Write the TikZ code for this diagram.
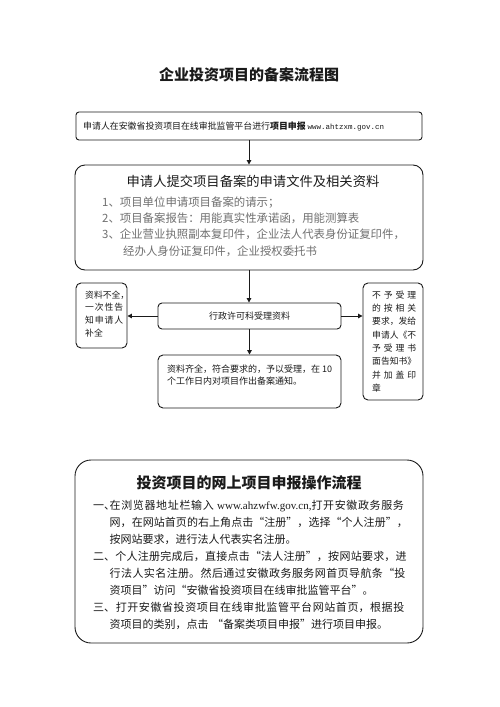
\documentclass[tikz,border=0pt]{standalone}
\usepackage{fontspec}
\setmainfont{Noto Sans CJK SC}
\newfontfamily\serifen{Liberation Serif}
\newfontfamily\monoen{Liberation Mono}
\usetikzlibrary{arrows.meta}
\definecolor{ink}{HTML}{1A1A1A}
\definecolor{graytext}{HTML}{707070}
\tikzset{
 box/.style={draw=ink, line width=0.9pt, rectangle, inner sep=0pt},
 conn/.style={draw=ink, line width=1pt, -{Triangle[length=4.5pt,width=4.5pt]}},
 txt/.style={inner sep=0pt, anchor=base west, text=ink},
 itemtxt/.style={txt, text=graytext},
}
\newcommand\fs[1]{\fontsize{#1}{#1}\selectfont}
\newcommand\spreadline[2]{\hbox to #1{#2}}
\begin{document}
\begin{tikzpicture}[x=1pt,y=-1pt]
\fill[white] (0,0) rectangle (500,707);
\useasboundingbox (0,0) rectangle (500,707);
% title
\node[txt, anchor=base] (title) at (249, 80.7) {\fs{15}\bfseries 企业投资项目的备案流程图};
% boxes
\node[box, rounded corners=3pt, minimum width=346pt, minimum height=28pt] (b1) at (249,126) {};
\node[box, rounded corners=10pt, minimum width=348pt, minimum height=105pt] (b2) at (249,217.5) {};
\node[box, rounded corners=4pt, minimum width=183pt, minimum height=26pt] (mid) at (249.5,316) {};
\node[box, rounded corners=5pt, minimum width=51pt, minimum height=65pt] (lbox) at (101.5,315.5) {};
\node[box, rounded corners=5pt, minimum width=60pt, minimum height=117pt] (rbox) at (393,341.5) {};
\node[box, rounded corners=5pt, minimum width=183pt, minimum height=53pt] (bot) at (249.5,381.5) {};
\node[box, rounded corners=16pt, minimum width=348pt, minimum height=183pt] (b3) at (249,551.5) {};
% connectors
\draw[conn] (b1.south) -- (b2.north);
\draw[conn] (b2.south) -- (b2.south |- mid.north);
\draw[conn] (mid.west) -- (mid.west -| lbox.east);
\draw[conn] (mid.east) -- (mid.east -| rbox.west);
\draw[conn] (mid.south) -- (bot.north);
% box1 text
\node[txt] (t1) at (83, 129.4) {\fs{8.9}申请人在安徽省投资项目在线审批监管平台进行\textbf{项目申报} {\monoen\fs{7.5}www.ahtzxm.gov.cn}};
% box2 text
\node[txt, anchor=base] (t2) at (253, 186.1) {\fs{13.3}申请人提交项目备案的申请文件及相关资料};
\node[itemtxt] (t2a) at (102, 206.3) {\fs{11.4}1、项目单位申请项目备案的请示；};
\node[itemtxt] (t2b) at (102, 222.6) {\fs{11.4}2、项目备案报告：用能真实性承诺函，用能测算表};
\node[itemtxt] (t2c) at (102, 238.9) {\fs{11.4}3、企业营业执照副本复印件，企业法人代表身份证复印件，};
\node[itemtxt] (t2d) at (123, 255.3) {\fs{11.4}经办人身份证复印件，企业授权委托书};
% middle
\node[txt, anchor=base] (tm) at (249.5, 319.4) {\fs{9}行政许可科受理资料};
% left box
\node[txt] (l1) at (85, 298.3) {\fs{8.8}资料不全，};
\node[txt] (l2) at (85, 310.8) {\fs{8.8}\spreadline{38pt}{一\hfill 次\hfill 性\hfill 告}};
\node[txt] (l3) at (85, 323.8) {\fs{8.8}\spreadline{38pt}{知\hfill 申\hfill 请\hfill 人}};
\node[txt] (l4) at (85, 336.3) {\fs{8.8}补全};
% right box
\node[txt] (r1) at (372, 298.3) {\fs{8.8}\spreadline{44pt}{不\hfill 予\hfill 受\hfill 理}};
\node[txt] (r2) at (372, 311.6) {\fs{8.8}\spreadline{44pt}{的\hfill 按\hfill 相\hfill 关}};
\node[txt] (r3) at (372, 324.9) {\fs{8.8}要求，发给};
\node[txt] (r4) at (372, 338.2) {\fs{8.8}申请人《不};
\node[txt] (r5) at (372, 351.5) {\fs{8.8}\spreadline{44pt}{予\hfill 受\hfill 理\hfill 书}};
\node[txt] (r6) at (372, 364.8) {\fs{8.8}面告知书》};
\node[txt] (r7) at (372, 378.1) {\fs{8.8}\spreadline{44pt}{并\hfill 加\hfill 盖\hfill 印}};
\node[txt] (r8) at (372, 391.4) {\fs{8.8}章};
% bottom box
\node[txt] (bt1) at (167, 372.4) {\fs{9}资料齐全，符合要求的，予以受理，在 10};
\node[txt] (bt2) at (167, 384.4) {\fs{9}个工作日内对项目作出备案通知。};
% box3
\node[txt, anchor=base] (t3) at (249, 488.7) {\fs{15}\bfseries 投资项目的网上项目申报操作流程};
\node[txt, text width=315pt] (t3body) at (93, 509.2) {\fontsize{11}{17}\selectfont
\XeTeXlinebreaklocale "zh"\XeTeXlinebreakskip=0pt plus 3pt minus 0.3pt
\hangindent=16.5pt\hangafter=1 \makebox[16.5pt][l]{一、}在浏览器地址栏输入 {\serifen www.ahzwfw.gov.cn,}打开安徽政务服务\linebreak 网，在网站首页的右上角点击“注册”，选择“个人注册”，\linebreak 按网站要求，进行法人代表实名注册。\par
\hangindent=16.5pt\hangafter=1 二、个人注册完成后，直接点击“法人注册”，按网站要求，进\linebreak 行法人实名注册。然后通过安徽政务服务网首页导航条“投\linebreak 资项目”访问“安徽省投资项目在线审批监管平台”。\par
\hangindent=16.5pt\hangafter=1 三、打开安徽省投资项目在线审批监管平台网站首页，根据投\linebreak 资项目的类别，点击 “备案类项目申报”进行项目申报。\par};
\end{tikzpicture}
\end{document}
